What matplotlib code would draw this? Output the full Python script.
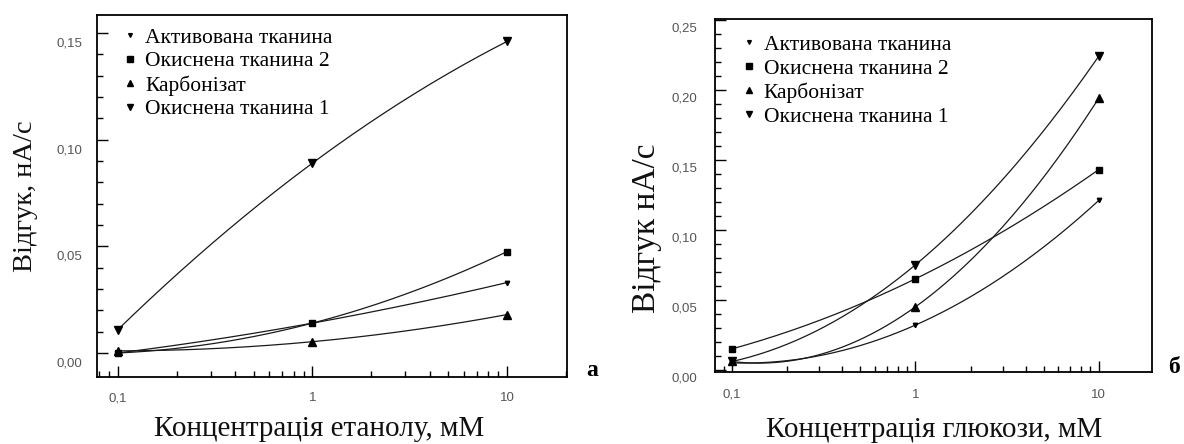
import numpy as np
import matplotlib
matplotlib.use("Agg")
import matplotlib.pyplot as plt
from matplotlib.lines import Line2D
from matplotlib.ticker import FixedLocator, LogLocator, NullFormatter
import matplotlib.transforms as mtransforms

# Concentrations, mM
conc = [0.1, 1, 10]

series_names = ["Активована тканина", "Окиснена тканина 2", "Карбонізат", "Окиснена тканина 1"]
markers = ["v", "s", "^", "v"]
marker_sizes = [3.2, 4.5, 5.5, 5.5]

# Response, nA/s — ethanol
ethanol_activated = [0.000, 0.014, 0.033]
ethanol_oxidized2 = [0.000, 0.014, 0.0475]
ethanol_carbonizate = [0.001, 0.0053, 0.018]
ethanol_oxidized1 = [0.011, 0.089, 0.146]

# Response, nA/s — glucose
glucose_activated = [0.005, 0.032, 0.121]
glucose_oxidized2 = [0.015, 0.065, 0.143]
glucose_carbonizate = [0.006, 0.045, 0.194]
glucose_oxidized1 = [0.006, 0.075, 0.224]

ethanol_yticks = [0.00, 0.05, 0.10, 0.15]
ethanol_ylabels = ["0,00", "0,05", "0,10", "0,15"]
glucose_yticks = [0.00, 0.05, 0.10, 0.15, 0.20, 0.25]
glucose_ylabels = ["0,00", "0,05", "0,10", "0,15", "0,20", "0,25"]
xticks = [0.1, 1, 10]
xticklabels = ["0,1", "1", "10"]

SERIF = "Liberation Serif"
SANS = "Liberation Sans"

fig = plt.figure(figsize=(11.84, 4.44), dpi=100)
fig.patch.set_facecolor("white")


def smooth(x, y):
    lx = np.log10(x)
    coef = np.polyfit(lx, y, 2)
    t = np.linspace(lx[0], lx[-1], 200)
    return 10 ** t, np.polyval(coef, t)


def draw_panel(rect, data, xlim, ylim, yticks, ylabels, ylabel, xlabel,
               ylabel_pos, xlabel_pos, ylabel_size, legend_anchor, tag, tag_pos,
               ylab_pad, ylab_shift, xlab_pad):
    ax = fig.add_axes(rect)
    for ys, m, ms in zip(data, markers, marker_sizes):
        sx, sy = smooth(conc, ys)
        ax.plot(sx, sy, color="#1a1a1a", lw=0.9, zorder=2)
        ax.plot(conc, ys, linestyle="none", marker=m, ms=ms, color="black", zorder=3)
    ax.set_xscale("log")
    ax.set_xlim(*xlim)
    ax.set_ylim(*ylim)

    ax.xaxis.set_major_locator(FixedLocator(xticks))
    ax.set_xticklabels(xticklabels)
    ax.xaxis.set_minor_locator(LogLocator(base=10, subs=np.arange(2, 10)))
    ax.xaxis.set_minor_formatter(NullFormatter())
    ax.yaxis.set_major_locator(FixedLocator(yticks))
    ax.set_yticklabels(ylabels)
    ax.yaxis.set_minor_locator(FixedLocator(np.arange(0, ylim[1] + 1e-9, 0.01)))

    ax.tick_params(axis="both", which="major", direction="in", length=8, width=1.0,
                   labelsize=9.5, labelcolor="#555555", top=False, right=False)
    ax.tick_params(axis="both", which="minor", direction="in", length=4.5, width=1.0,
                   top=False, right=False)
    ax.tick_params(axis="y", which="major", pad=ylab_pad)
    ax.tick_params(axis="x", which="major", pad=xlab_pad)
    for lab in ax.get_xticklabels() + ax.get_yticklabels():
        lab.set_fontfamily(SANS)
    shift = mtransforms.ScaledTranslation(0, -ylab_shift / 100, fig.dpi_scale_trans)
    for lab in ax.get_yticklabels():
        lab.set_transform(lab.get_transform() + shift)

    for sp in ax.spines.values():
        sp.set_linewidth(1.3)
        sp.set_color("black")

    ax.set_ylabel(ylabel, fontfamily=SERIF, fontsize=ylabel_size, color="#111111",
                  va="center")
    ax.yaxis.set_label_coords(*ylabel_pos)
    ax.set_xlabel(xlabel, fontfamily=SERIF, fontsize=21, color="#111111", va="center")
    ax.xaxis.set_label_coords(*xlabel_pos)

    handles = [Line2D([], [], linestyle="none", marker=m, ms=ms * 0.85, color="black")
               for m, ms in zip(markers, marker_sizes)]
    ax.legend(handles, series_names, loc="upper left", bbox_to_anchor=legend_anchor,
              frameon=False, prop={"family": SERIF, "size": 15.5}, handlelength=0.7,
              handletextpad=0.35, labelspacing=0.17, borderpad=0, borderaxespad=0)

    fig.text(tag_pos[0], tag_pos[1], tag, fontfamily=SERIF, fontsize=17,
             fontweight="bold", ha="center", va="center")
    return ax


W, H = 1184, 444

draw_panel(
    [97 / W, 1 - 377 / H, 470 / W, 362 / H],
    [ethanol_activated, ethanol_oxidized2, ethanol_carbonizate, ethanol_oxidized1],
    (0.078, 20.35), (-0.01125, 0.1584),
    ethanol_yticks, ethanol_ylabels,
    "Відгук, нА/с", "Концентрація етанолу, мМ",
    (-0.153, 0.5), (0.472, -0.144), 20.5,
    (0.055, 0.965), "а", (592 / W, 1 - 370 / H),
    10.8, 9, 10.8,
)

draw_panel(
    [715 / W, 1 - 372 / H, 437 / W, 353 / H],
    [glucose_activated, glucose_oxidized2, glucose_carbonizate, glucose_oxidized1],
    (0.0808, 19.5), (-0.0015, 0.2505),
    glucose_yticks, glucose_ylabels,
    "Відгук нА/с", "Концентрація глюкози, мМ",
    (-0.156, 0.408), (0.501, -0.164), 24,
    (0.06, 0.955), "б", (1174 / W, 1 - 367 / H),
    13, 7, 12,
)

fig.savefig("out.png", dpi=100, facecolor="white")
